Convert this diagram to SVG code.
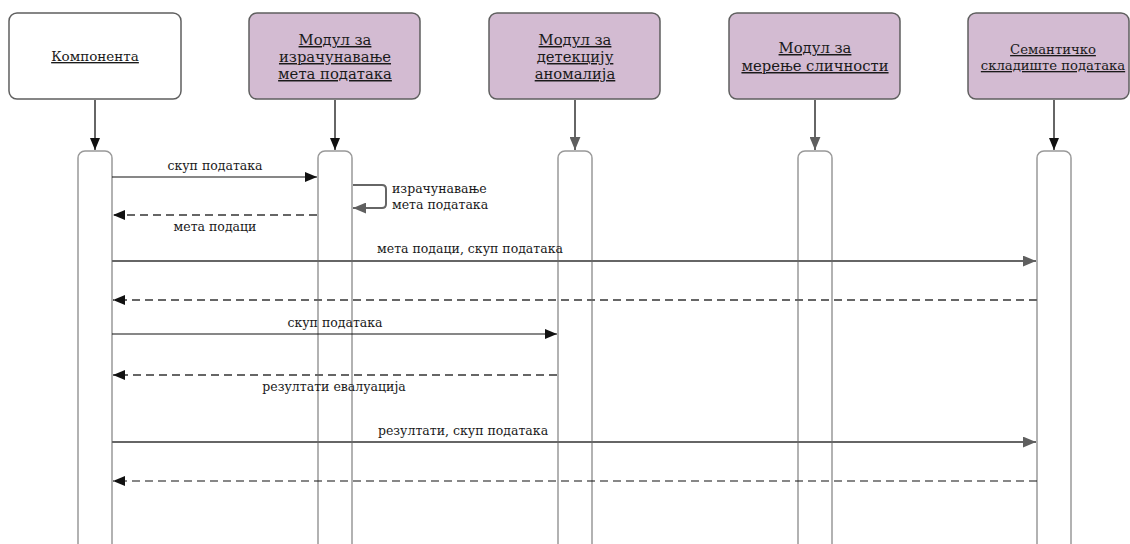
<svg xmlns="http://www.w3.org/2000/svg" width="1130" height="544" viewBox="0 0 1130 544">
<defs>
<style>
.box{stroke:#5f5f5f;stroke-width:1.5}
.mod{fill:#d3bbd2}
.act{fill:#fff;stroke:#999;stroke-width:1.5}
.t{font-family:"DejaVu Serif","Liberation Serif",serif;fill:#1a1a1a;text-anchor:middle;text-decoration:underline}
.lbl{font-family:"DejaVu Serif","Liberation Serif",serif;fill:#1a1a1a;font-size:12.5px}
.blk{stroke:#111;stroke-width:1.2;fill:none}
.gry{stroke:#666;stroke-width:2;fill:none}
.dash{stroke-dasharray:8 5}
</style>
<marker id="ab" viewBox="0 0 12 10" refX="12" refY="5" markerWidth="12" markerHeight="10" markerUnits="userSpaceOnUse" orient="auto"><path d="M0 0L12 5L0 10z" fill="#111"/></marker>
<marker id="ag" viewBox="0 0 12 10" refX="12" refY="5" markerWidth="13" markerHeight="11" markerUnits="userSpaceOnUse" orient="auto"><path d="M0 0L12 5L0 10z" fill="#5f5f5f"/></marker>
</defs>
<rect width="1130" height="544" fill="#fff"/>

<g id="n1"><rect class="box" x="9" y="13" width="172" height="86" rx="8" fill="#fff"/><text class="t" x="95" y="61" font-size="13.5">Компонента</text></g>
<g id="n2"><rect class="box mod" x="249" y="13" width="171" height="86" rx="8"/><text class="t" x="335" y="45" font-size="14.8"><tspan x="335">Модул за</tspan><tspan x="335" dy="17">израчунавање</tspan><tspan x="335" dy="17">мета података</tspan></text></g>
<g id="n3"><rect class="box mod" x="489" y="13" width="171" height="86" rx="8"/><text class="t" x="575" y="45" font-size="14.8"><tspan x="575">Модул за</tspan><tspan x="575" dy="17">детекцију</tspan><tspan x="575" dy="17">аномалија</tspan></text></g>
<g id="n4"><rect class="box mod" x="729" y="13" width="171" height="86" rx="8"/><text class="t" x="815" y="53" font-size="14.8"><tspan x="815">Модул за</tspan><tspan x="815" dy="18">мерење сличности</tspan></text></g>
<g id="n5"><rect class="box mod" x="968" y="13" width="161" height="86" rx="8"/><text class="t" x="1053" y="54" font-size="13.2"><tspan x="1053">Семантичко</tspan><tspan x="1053" dy="16">складиште података</tspan></text></g>

<g id="a1"><rect class="act" x="78" y="151" width="34" height="410" rx="7"/></g>
<g id="a2"><rect class="act" x="318" y="151" width="34" height="410" rx="7"/></g>
<g id="a3"><rect class="act" x="558" y="151" width="34" height="410" rx="7"/></g>
<g id="a4"><rect class="act" x="798" y="151" width="34" height="410" rx="7"/></g>
<g id="a5"><rect class="act" x="1037" y="151" width="34" height="410" rx="7"/></g>

<g id="connectors">
<line class="gry" x1="95" y1="100" x2="95" y2="150" stroke-width="1.5" marker-end="url(#ab)"/>
<line class="gry" x1="335" y1="100" x2="335" y2="150" stroke-width="1.5" marker-end="url(#ab)"/>
<line class="gry" x1="575" y1="100" x2="575" y2="150" stroke-width="1.5" marker-end="url(#ag)"/>
<line class="gry" x1="815" y1="100" x2="815" y2="150" stroke-width="1.5" marker-end="url(#ag)"/>
<line class="gry" x1="1054" y1="100" x2="1054" y2="150" stroke-width="1.5" marker-end="url(#ab)"/>

<line class="blk" x1="112" y1="177" x2="317" y2="177" marker-end="url(#ab)"/>
<path class="gry" d="M353 185H382Q386 185 386 189V204Q386 208 382 208H353" marker-end="url(#ag)"/>
<line class="gry dash" x1="317" y1="215" x2="113" y2="215" stroke-width="1.5" marker-end="url(#ab)"/>
<line class="gry" x1="112" y1="261" x2="1036" y2="261" marker-end="url(#ag)"/>
<line class="gry dash" x1="1037" y1="300" x2="113" y2="300" stroke-width="1.5" marker-end="url(#ab)"/>
<line class="blk" x1="112" y1="334" x2="557" y2="334" marker-end="url(#ab)"/>
<line class="gry dash" x1="557" y1="375" x2="113" y2="375" stroke-width="1.5" marker-end="url(#ab)"/>
<line class="gry" x1="112" y1="442" x2="1036" y2="442" marker-end="url(#ag)"/>
<line class="blk dash" x1="1037" y1="481" x2="113" y2="481" marker-end="url(#ab)"/>
</g>

<g id="labels">
<text class="lbl" x="215" y="170" text-anchor="middle">скуп података</text>
<text class="lbl" x="392" y="193">израчунавање</text>
<text class="lbl" x="392" y="209">мета података</text>
<text class="lbl" x="215" y="231" text-anchor="middle">мета подаци</text>
<text class="lbl" x="470" y="253" text-anchor="middle">мета подаци, скуп података</text>
<text class="lbl" x="335" y="327" text-anchor="middle">скуп података</text>
<text class="lbl" x="334" y="391" text-anchor="middle">резултати евалуација</text>
<text class="lbl" x="463" y="435" text-anchor="middle">резултати, скуп података</text>
</g>
</svg>
